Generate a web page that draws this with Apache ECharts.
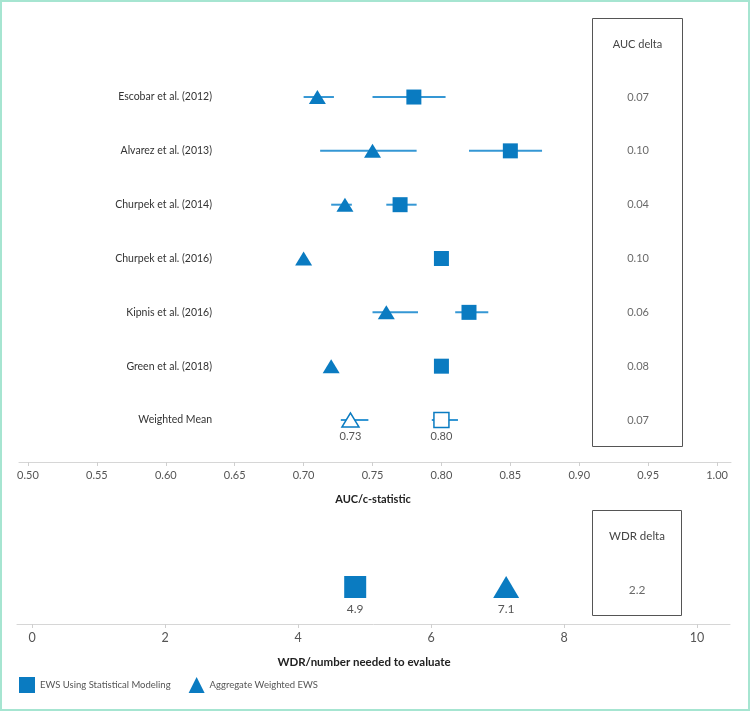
<!DOCTYPE html>
<html>
<head>
<meta charset="utf-8">
<script src="https://cdn.jsdelivr.net/npm/echarts@6/dist/echarts.min.js"></script>
<style>
html,body{margin:0;padding:0;background:#fff;}
#wrap{width:750px;height:711px;box-sizing:border-box;border:2px solid #a6e5d1;position:relative;}
#chart{position:absolute;left:-2px;top:-2px;width:750px;height:711px;}
</style>
</head>
<body>
<div id="wrap"><div id="chart"></div></div>
<script>
// ---- data ----
const studies = ['Escobar et al. (2012)','Alvarez et al. (2013)','Churpek et al. (2014)','Churpek et al. (2016)','Kipnis et al. (2016)','Green et al. (2018)','Weighted Mean'];
// statistical modeling EWS (squares): point, CI low, CI high (null = no CI)
const statAUC  = [0.78, 0.85, 0.77, 0.80, 0.82, 0.80, 0.80];
const statLow  = [0.75, 0.82, 0.76, null, 0.81, null, 0.793];
const statHigh = [0.803,0.873,0.782,null, 0.834,null, 0.812];
// aggregate weighted EWS (triangles)
const aggAUC  = [0.71, 0.75, 0.73, 0.70, 0.76, 0.72, 0.734];
const aggLow  = [0.70, 0.712,0.72, null, 0.75, null, 0.727];
const aggHigh = [0.722,0.782,0.735,null, 0.783,null, 0.747];
const aucDelta = ['0.07','0.10','0.04','0.10','0.06','0.08','0.07'];
const aucTicks = [0.50,0.55,0.60,0.65,0.70,0.75,0.80,0.85,0.90,0.95,1.00];
const wdrStat = 4.86;
const wdrAgg = 7.13;
const wdrDelta = '2.2';
const wdrTicks = [0,2,4,6,8,10];
const seriesNames = ['EWS Using Statistical Modeling','Aggregate Weighted EWS'];

const BLUE = '#0a7bc1';
const CI_BLUE = '#3597d4';
const FONT = 'Lato, "Open Sans", sans-serif';
const MEAN = studies.length - 1;

function ciData(lo, hi){
  const out = [];
  lo.forEach((l,i)=>{ if(l!==null) out.push([l, hi[i], i]); });
  return out;
}
function ptData(vals, from, to){
  const out = [];
  for(let i=from;i<to;i++) out.push([vals[i], i]);
  return out;
}
function renderCI(params, api){
  const a = api.coord([api.value(0), api.value(2)]);
  const b = api.coord([api.value(1), api.value(2)]);
  return {type:'line', shape:{x1:a[0],y1:a[1],x2:b[0],y2:b[1]}, style:{stroke:CI_BLUE, lineWidth:2}};
}

const chart = echarts.init(document.getElementById('chart'), null, {renderer:'canvas'});
const option = {
  animation:false,
  textStyle:{fontFamily:FONT},
  grid:[
    {left:19, right:19, top:43.2, bottom:249},
    {left:17, right:20, top:550, bottom:87}
  ],
  xAxis:[
    {gridIndex:0, type:'value', min:0.4935, max:1.0101,
     axisLine:{show:true, onZero:false, lineStyle:{color:'#d6d6d6'}},
     axisTick:{show:true, customValues:aucTicks, length:4, lineStyle:{color:'#cfcfcf'}},
     axisLabel:{customValues:aucTicks, formatter:v=>v.toFixed(2), color:'#555', fontSize:11, margin:8, fontFamily:FONT},
     splitLine:{show:false},
     name:'AUC/c-statistic', nameLocation:'middle', nameGap:32,
     nameTextStyle:{color:'#222', fontWeight:'bold', fontSize:11, fontFamily:FONT, padding:[0,4,0,0]}
    },
    {gridIndex:1, type:'value', min:-0.2256, max:10.496,
     axisLine:{show:true, onZero:false, lineStyle:{color:'#d6d6d6'}},
     axisTick:{show:true, customValues:wdrTicks, length:4, lineStyle:{color:'#cfcfcf'}},
     axisLabel:{customValues:wdrTicks, color:'#555', fontSize:12.5, margin:7, fontFamily:FONT},
     splitLine:{show:false},
     name:'WDR/number needed to evaluate', nameLocation:'middle', nameGap:32,
     nameTextStyle:{color:'#222', fontWeight:'bold', fontSize:11.5, fontFamily:FONT, padding:[0,19,0,0]}
    }
  ],
  yAxis:[
    {gridIndex:0, type:'value', inverse:true, min:-1, max:6.78, interval:1,
     offset:-193, axisLine:{show:false}, axisTick:{show:false}, splitLine:{show:false},
     axisLabel:{formatter:v=> (v>=0 && v<studies.length && Number.isInteger(v)) ? studies[v] : '', color:'#333', fontSize:10.5, margin:0, fontFamily:FONT, showMaxLabel:false}
    },
    {gridIndex:1, type:'category', data:['WDR'], show:false}
  ],
  legend:{
    left:14, top:672, itemWidth:16, itemHeight:16, itemGap:18,
    textStyle:{color:'#555', fontSize:9.5, fontFamily:FONT},
    data:[{name:seriesNames[0], icon:'rect'},{name:seriesNames[1], icon:'triangle'}],
    selectedMode:false
  },
  graphic:[
    {type:'rect', shape:{x:592.5, y:18.5, width:90, height:428}, style:{fill:'none', stroke:'#555', lineWidth:1}, silent:true},
    {type:'text', x:637.5, y:44, style:{text:'AUC delta', fill:'#444', font:'11px '+FONT, textAlign:'center', textVerticalAlign:'middle'}},
    {type:'rect', shape:{x:592.5, y:510.5, width:89, height:105}, style:{fill:'none', stroke:'#555', lineWidth:1}, silent:true},
    {type:'text', x:637, y:536, style:{text:'WDR delta', fill:'#444', font:'11.5px '+FONT, textAlign:'center', textVerticalAlign:'middle'}}
  ],
  series:[
    {type:'custom', name:'ci-stat', xAxisIndex:0, yAxisIndex:0, renderItem:renderCI, data:ciData(statLow,statHigh), z:1, silent:true},
    {type:'custom', name:'ci-agg', xAxisIndex:0, yAxisIndex:0, renderItem:renderCI, data:ciData(aggLow,aggHigh), z:1, silent:true},
    {type:'scatter', name:seriesNames[0], xAxisIndex:0, yAxisIndex:0, symbol:'rect', symbolSize:[15,15],
     itemStyle:{color:BLUE, opacity:1}, data:ptData(statAUC,0,MEAN), z:3},
    {type:'scatter', name:seriesNames[1], xAxisIndex:0, yAxisIndex:0, symbol:'triangle', symbolSize:[17,14],
     itemStyle:{color:BLUE, opacity:1}, data:ptData(aggAUC,0,MEAN), z:3},
    {type:'scatter', name:'mean-stat', xAxisIndex:0, yAxisIndex:0, symbol:'rect', symbolSize:[15,15],
     itemStyle:{color:'#fff', borderColor:BLUE, borderWidth:1.5, opacity:1}, data:ptData(statAUC,MEAN,MEAN+1), z:3,
     label:{show:true, position:'bottom', distance:3, formatter:p=>p.value[0].toFixed(2), color:'#555', fontSize:11, fontFamily:FONT}},
    {type:'scatter', name:'mean-agg', xAxisIndex:0, yAxisIndex:0, symbol:'triangle', symbolSize:[17,14],
     itemStyle:{color:'#fff', borderColor:BLUE, borderWidth:1.5, opacity:1}, data:ptData(aggAUC,MEAN,MEAN+1), z:3,
     label:{show:true, position:'bottom', distance:3, formatter:p=>p.value[0].toFixed(2), color:'#555', fontSize:11, fontFamily:FONT}},
    {type:'scatter', name:'auc-delta', xAxisIndex:0, yAxisIndex:0, symbolSize:0, silent:true,
     data:aucDelta.map((d,i)=>({value:[0.9427,i], delta:d})),
     label:{show:true, position:'inside', formatter:p=>p.data.delta, color:'#444', fontSize:11, fontFamily:FONT}},
    {type:'scatter', name:seriesNames[0], xAxisIndex:1, yAxisIndex:1, symbol:'rect', symbolSize:[22,22],
     itemStyle:{color:BLUE, opacity:1}, data:[[wdrStat,'WDR']],
     label:{show:true, position:'bottom', distance:5, formatter:p=>p.value[0].toFixed(1), color:'#555', fontSize:12, fontFamily:FONT}},
    {type:'scatter', name:seriesNames[1], xAxisIndex:1, yAxisIndex:1, symbol:'triangle', symbolSize:[26,22],
     itemStyle:{color:BLUE, opacity:1}, data:[[wdrAgg,'WDR']],
     label:{show:true, position:'bottom', distance:5, formatter:p=>p.value[0].toFixed(1), color:'#555', fontSize:12, fontFamily:FONT}},
    {type:'scatter', name:'wdr-delta', xAxisIndex:1, yAxisIndex:1, symbolSize:0, silent:true,
     data:[{value:[9.1,'WDR'], delta:wdrDelta}],
     label:{show:true, position:'inside', offset:[0,3], formatter:p=>p.data.delta, color:'#444', fontSize:12, fontFamily:FONT}}
  ]
};
chart.setOption(option);
</script>
</body>
</html>
